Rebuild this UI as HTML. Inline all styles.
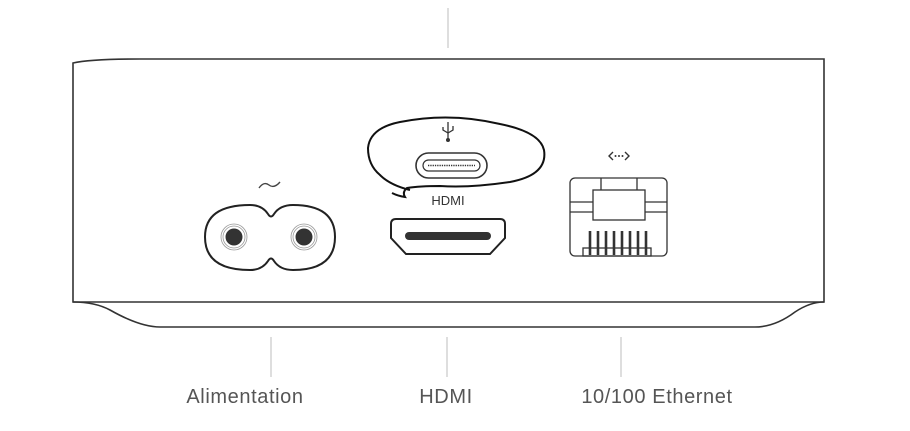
<!DOCTYPE html>
<html><head><style>
body{margin:0;background:#fff;width:910px;height:431px;overflow:hidden}
svg{display:block}
text{font-family:"Liberation Sans",sans-serif}
</style></head><body>
<svg width="910" height="431" viewBox="0 0 910 431">
<g stroke="#ccc" stroke-width="1.3">
<line x1="448" y1="8" x2="448" y2="48"/>
<line x1="271" y1="337" x2="271" y2="377"/>
<line x1="447" y1="337" x2="447" y2="377"/>
<line x1="621" y1="337" x2="621" y2="377"/>
</g>
<g fill="none" stroke="#333" stroke-width="1.6">
<path d="M73,63 Q90,59 140,59 L824,59 L824,302 L73,302 Z"/>
<path d="M73,302 Q95,302 110,310 Q140,327 160,327 L755,327 Q775,327 795,312 Q810,302 824,302"/>
</g>
<!-- power -->
<g>
<path d="M250,205 Q262,205 268,214 Q271,219 274,214 Q280,205 293,205 Q335,205 335,237 Q335,270 293,270 Q280,270 274,261 Q271,256 268,261 Q262,270 250,270 Q205,270 205,237 Q205,205 250,205 Z" fill="none" stroke="#222" stroke-width="2"/>
<circle cx="234" cy="237" r="13" fill="none" stroke="#999" stroke-width="0.8"/>
<circle cx="234" cy="237" r="11" fill="none" stroke="#999" stroke-width="0.8"/>
<circle cx="234" cy="237" r="8.5" fill="#333"/>
<circle cx="304" cy="237" r="13" fill="none" stroke="#999" stroke-width="0.8"/>
<circle cx="304" cy="237" r="11" fill="none" stroke="#999" stroke-width="0.8"/>
<circle cx="304" cy="237" r="8.5" fill="#333"/>
<path d="M259,188 Q264,181 269,185 Q274,189 280,182" fill="none" stroke="#444" stroke-width="1.4"/>
</g>
<!-- HDMI -->
<path d="M396,219 L500,219 Q505,219 505,224 L505,238 L490,254 L406,254 L391,238 L391,224 Q391,219 396,219 Z" fill="none" stroke="#222" stroke-width="2"/>
<rect x="405" y="232" width="86" height="8" rx="4" fill="#333"/>
<text x="448" y="205" font-size="13" text-anchor="middle" fill="#333">HDMI</text>
<!-- USB-C -->
<rect x="416" y="153" width="71" height="25" rx="12.5" fill="none" stroke="#333" stroke-width="1.6"/>
<rect x="423" y="160" width="57" height="11" rx="5.5" fill="none" stroke="#333" stroke-width="1.2"/>
<line x1="428" y1="165.5" x2="475" y2="165.5" stroke="#333" stroke-width="1.5" stroke-dasharray="1.3,1"/>
<g stroke="#333" stroke-width="1.3" fill="none">
<line x1="448" y1="122" x2="448" y2="139"/>
<path d="M443,127 L443,130 L448,133 M453,126 L453,130 L448,133"/>
</g>
<circle cx="448" cy="140" r="2" fill="#333"/>
<path d="M410,190 Q390,185 380,175 Q368,165 368,148 Q370,128 400,122 Q450,112 500,124 Q540,132 544,150 Q548,175 510,182 Q470,188 440,186 Q420,186 407,188 Q402,192 405,197 Q398,196 392,193" fill="none" stroke="#111" stroke-width="2"/>
<!-- Ethernet -->
<g fill="none" stroke="#333" stroke-width="1.3">
<rect x="570" y="178" width="97" height="78" rx="5"/>
<path d="M601,178 L601,190 M637,178 L637,190"/>
<rect x="593" y="190" width="52" height="30"/>
<path d="M570,202 L593,202 M570,212 L593,212 M645,202 L667,202 M645,212 L667,212"/>
<rect x="583" y="248" width="68" height="8"/>
</g>
<g stroke="#333" stroke-width="2.6">
<line x1="590" y1="231" x2="590" y2="255"/><line x1="598" y1="231" x2="598" y2="255"/>
<line x1="606" y1="231" x2="606" y2="255"/><line x1="614" y1="231" x2="614" y2="255"/>
<line x1="622" y1="231" x2="622" y2="255"/><line x1="630" y1="231" x2="630" y2="255"/>
<line x1="638" y1="231" x2="638" y2="255"/><line x1="646" y1="231" x2="646" y2="255"/>
</g>
<g stroke="#333" stroke-width="1.4" fill="none">
<path d="M613,152 L609,156 L613,160 M625,152 L629,156 L625,160"/>
</g>
<g fill="#333"><circle cx="615.5" cy="156" r="1"/><circle cx="619" cy="156" r="1"/><circle cx="622.5" cy="156" r="1"/></g>
<g font-size="20" fill="#555" text-anchor="middle" letter-spacing="0.6">
<text x="245" y="403">Alimentation</text>
<text x="446" y="403">HDMI</text>
<text x="657" y="403">10/100 Ethernet</text>
</g>
</svg>
</body></html>
